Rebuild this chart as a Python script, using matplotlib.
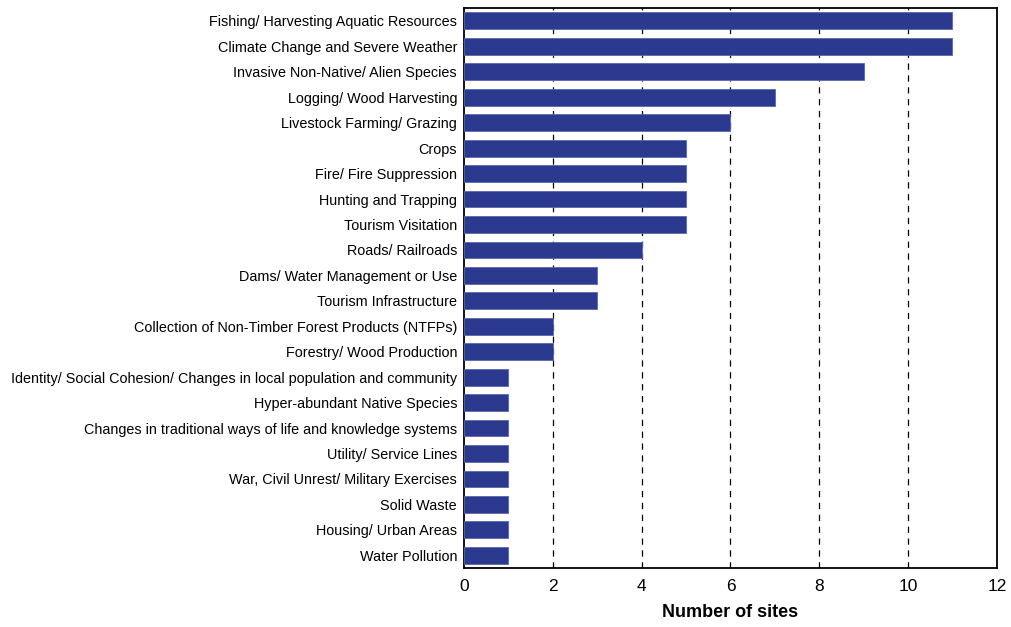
import matplotlib.pyplot as plt
import numpy as np

plt.rcParams['font.family'] = ['Liberation Sans', 'DejaVu Sans']

threats = [
    "Fishing/ Harvesting Aquatic Resources",
    "Climate Change and Severe Weather",
    "Invasive Non-Native/ Alien Species",
    "Logging/ Wood Harvesting",
    "Livestock Farming/ Grazing",
    "Crops",
    "Fire/ Fire Suppression",
    "Hunting and Trapping",
    "Tourism Visitation",
    "Roads/ Railroads",
    "Dams/ Water Management or Use",
    "Tourism Infrastructure",
    "Collection of Non-Timber Forest Products (NTFPs)",
    "Forestry/ Wood Production",
    "Identity/ Social Cohesion/ Changes in local population and community",
    "Hyper-abundant Native Species",
    "Changes in traditional ways of life and knowledge systems",
    "Utility/ Service Lines",
    "War, Civil Unrest/ Military Exercises",
    "Solid Waste",
    "Housing/ Urban Areas",
    "Water Pollution",
]
sites = [11, 11, 9, 7, 6, 5, 5, 5, 5, 4, 3, 3, 2, 2, 1, 1, 1, 1, 1, 1, 1, 1]

fig = plt.figure(figsize=(10.11, 6.27), dpi=100)
ax = fig.add_axes([0.459, 0.094, 0.527, 0.893])

y = np.arange(len(threats))
ax.barh(y, sites, height=0.66, color='#2b3a8f', edgecolor='#5a67aa', linewidth=0.6, zorder=3)

ax.set_ylim(len(threats) - 0.5, -0.5)
ax.set_xlim(0, 12)
ax.set_xticks(range(0, 13, 2))
ax.set_yticks(y)
ax.set_yticklabels(threats, fontsize=10.4)
ax.tick_params(axis='x', labelsize=12.5, length=0, pad=8)
ax.tick_params(axis='y', length=0, pad=5)
for x in range(2, 12, 2):
    ax.axvline(x, color='black', linestyle=(0, (5, 4.5)), linewidth=0.9, zorder=1)
for s in ax.spines.values():
    s.set_linewidth(1.3)
ax.set_xlabel("Number of sites", fontsize=13, fontweight='bold', labelpad=7)

plt.savefig("out.png", dpi=100)
